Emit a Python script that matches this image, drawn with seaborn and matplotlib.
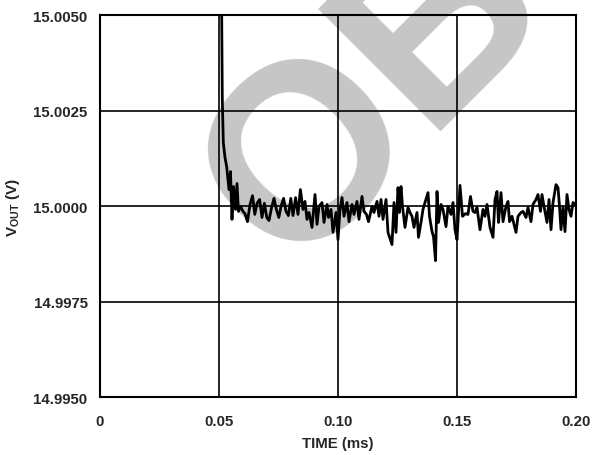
import numpy as np
import pandas as pd
import seaborn as sns
import matplotlib.pyplot as plt

# settling trace: time in ms, deviation from 15 V in mV
time_ms = [0.05063, 0.05113, 0.05139, 0.05181, 0.05252, 0.05323, 0.05378,
           0.05420, 0.05483, 0.05546, 0.05609, 0.05693, 0.05756, 0.05819,
           0.05903, 0.06008, 0.06092, 0.06197, 0.06303, 0.06408, 0.06504,
           0.06597, 0.06706, 0.06807, 0.06908, 0.07008, 0.07101, 0.07210,
           0.07311, 0.07412, 0.07513, 0.07605, 0.07714, 0.07815, 0.07916,
           0.08017, 0.08109, 0.08218, 0.08319, 0.08420, 0.08529, 0.08613,
           0.08697, 0.08782, 0.08908, 0.09034, 0.09118, 0.09202, 0.09328,
           0.09412, 0.09538, 0.09601, 0.09706, 0.09790, 0.09916, 0.10000,
           0.10084, 0.10168, 0.10252, 0.10378, 0.10462, 0.10588, 0.10672,
           0.10798, 0.10882, 0.11008, 0.11092, 0.11197, 0.11282, 0.11429,
           0.11513, 0.11639, 0.11723, 0.11807, 0.11891, 0.12017, 0.12101,
           0.12269, 0.12353, 0.12437, 0.12521, 0.12584, 0.12647, 0.12710,
           0.12815, 0.12941, 0.13025, 0.13109, 0.13193, 0.13319, 0.13382,
           0.13487, 0.13571, 0.13655, 0.13782, 0.13845, 0.13950, 0.14013,
           0.14097, 0.14160, 0.14223, 0.14328, 0.14412, 0.14538, 0.14622,
           0.14748, 0.14832, 0.14916, 0.15000, 0.15126, 0.15231, 0.15357,
           0.15462, 0.15567, 0.15672, 0.15756, 0.15840, 0.15966, 0.16092,
           0.16176, 0.16261, 0.16387, 0.16513, 0.16597, 0.16681, 0.16744,
           0.16849, 0.16933, 0.17059, 0.17143, 0.17206, 0.17311, 0.17395,
           0.17479, 0.17563, 0.17689, 0.17773, 0.17899, 0.17983, 0.18109,
           0.18193, 0.18319, 0.18403, 0.18508, 0.18571, 0.18655, 0.18782,
           0.18866, 0.18950, 0.19034, 0.19160, 0.19244, 0.19307, 0.19370,
           0.19454, 0.19538, 0.19622, 0.19706, 0.19790, 0.19874, 0.20000]
dev_mv = [6.19, 4.99, 2.79, 1.66, 1.27, 1.03, 0.69,
          0.43, 0.90, -0.35, 0.51, -0.09, 0.59, -0.14,
          -0.01, -0.14, -0.20, -0.41, 0.04, 0.27, -0.22,
          0.07, 0.17, -0.30, 0.07, -0.30, -0.38, -0.04,
          0.20, -0.09, -0.30, -0.01, 0.20, -0.14, -0.25,
          0.20, -0.25, 0.22, -0.22, 0.43, -0.09, 0.12,
          -0.35, -0.17, -0.56, 0.30, -0.48, -0.01, 0.09,
          -0.43, 0.04, -0.30, -0.09, -0.69, -0.17, -0.88,
          -0.09, 0.22, -0.27, 0.09, -0.41, 0.04, -0.22,
          0.12, -0.35, 0.25, -0.14, -0.22, -0.41, -0.01,
          -0.17, 0.12, -0.27, 0.17, -0.35, 0.17, -0.69,
          -1.01, 0.09, -0.69, 0.48, -0.17, 0.51, -0.01,
          -0.56, -0.04, -0.17, -0.27, -0.56, -0.17, -0.82,
          -0.43, -0.09, 0.09, 0.35, -0.27, -0.67, -0.80,
          -1.43, 0.38, -0.43, 0.04, -0.09, -0.54, -0.01,
          -0.22, 0.09, -0.62, -0.88, 0.54, -0.27, -0.20,
          -0.22, 0.25, -0.14, -0.17, -0.04, -0.62, -0.09,
          -0.27, 0.04, -0.56, -0.82, 0.17, 0.38, -0.43,
          0.35, -0.41, -0.01, 0.12, -0.41, -0.27, -0.48,
          -0.69, -0.27, -0.17, -0.14, -0.30, -0.04, -0.41,
          0.04, 0.17, 0.30, -0.14, 0.30, -0.01, -0.43,
          0.17, -0.62, 0.09, 0.56, 0.48, -0.01, -0.62,
          -0.01, -0.67, 0.30, -0.09, -0.27, 0.09, 0.04]

x_ticks = [0, 0.05, 0.10, 0.15, 0.20]
x_labels = ["0", "0.05", "0.10", "0.15", "0.20"]
y_ticks = [14.9950, 14.9975, 15.0000, 15.0025, 15.0050]
y_labels = ["14.9950", "14.9975", "15.0000", "15.0025", "15.0050"]

df = pd.DataFrame({"time": time_ms, "vout": [15.0 + d / 1000 for d in dev_mv]})

sns.set_style("white")
plt.rcParams["font.family"] = ["Liberation Sans", "DejaVu Sans"]
plt.rcParams["font.weight"] = "bold"
plt.rcParams["mathtext.fontset"] = "custom"
plt.rcParams["mathtext.rm"] = "Liberation Sans:bold"
plt.rcParams["mathtext.bf"] = "Liberation Sans:bold"
plt.rcParams["mathtext.it"] = "Liberation Sans:bold"

fig = plt.figure(figsize=(5.95, 4.56), dpi=100)
ax = fig.add_axes([100 / 595, 1 - 398 / 456, 476 / 595, 382 / 456])
ax.patch.set_alpha(0)

# watermark behind the axes (only "OB" is visible inside the figure)
fig.text(289 / 595, 1 - 273 / 456, "OB", rotation=45, rotation_mode="anchor",
         ha="left", va="baseline", fontsize=180, fontweight="bold",
         color="#c6c6c6", zorder=-5)

sns.lineplot(data=df, x="time", y="vout", color="black", lw=2.0,
             estimator=None, sort=False, ax=ax, zorder=3)

ax.set_xlim(0, 0.20)
ax.set_ylim(14.995, 15.005)
ax.set_xticks(x_ticks)
ax.set_xticklabels(x_labels)
ax.set_yticks(y_ticks)
ax.set_yticklabels(y_labels)
ax.grid(True, color="black", lw=1.2)
ax.tick_params(length=0, labelsize=10.8, pad=0)
ax.tick_params(axis="y", pad=9)
ax.tick_params(axis="x", pad=12)
for s in ax.spines.values():
    s.set_color("black")
    s.set_linewidth(1.5)

ax.set_xlabel("TIME (ms)", fontsize=10.8, fontweight="bold", labelpad=6)
ax.set_ylabel("V$_{\\mathrm{OUT}}$ (V)", fontsize=11, fontweight="bold", labelpad=8)

fig.savefig("out.png", dpi=100)
